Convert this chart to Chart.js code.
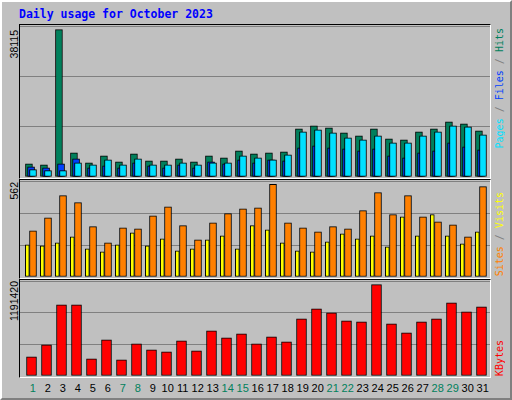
<!DOCTYPE html>
<html><head><meta charset="utf-8">
<script src="https://cdn.jsdelivr.net/npm/chart.js@4"></script>
<style>
  body{margin:0;width:512px;height:400px;overflow:hidden;background:#c0c0c0;position:relative;font-family:"Liberation Sans",sans-serif}
  #bevel{position:absolute;left:0;top:0;width:508px;height:396px;border:2px solid;border-color:#fff #808080 #808080 #fff}
  .frame{position:absolute;left:19px;width:470px;border:1px solid;border-color:#000 #fff #fff #000}
  canvas{position:absolute}
  .vl{position:absolute;writing-mode:vertical-rl;transform:rotate(180deg);white-space:nowrap}
  .ylab{font-size:10.5px;color:#000}
  .rlab{font-family:"DejaVu Sans Mono",monospace;font-size:10px}
  #title{position:absolute;left:19px;top:7px;font:bold 11.5px "DejaVu Sans Mono",monospace;color:#0000ff}
  .day{position:absolute;top:382px;font-size:11px;transform:translateX(-50%)}
</style></head><body>
<div id="bevel"></div>
<div id="title">Daily usage for October 2023</div>
<div class="frame" style="top:24px;height:153px"></div>
<div class="frame" style="top:179px;height:98px"></div>
<div class="frame" style="top:279px;height:97px"></div>
<canvas id="c1" style="left:20px;top:26px;width:470px;height:151px"></canvas>
<canvas id="c2" style="left:20px;top:181px;width:470px;height:96px"></canvas>
<canvas id="c3" style="left:20px;top:281px;width:470px;height:95px"></canvas>
<div class="vl ylab" style="left:8px;top:30px">38115</div>
<div class="vl ylab" style="left:8px;top:182px">562</div>
<div class="vl ylab" style="left:8px;top:281px">1191420</div>
<div class="vl rlab" style="left:494px;bottom:252px"><span style="color:#00e0ff">Pages</span><span style="color:#808080"> / </span><span style="color:#0040ff">Files</span><span style="color:#808080"> / </span><span style="color:#00805c">Hits</span></div>
<div class="vl rlab" style="left:494px;bottom:124px"><span style="color:#ff8000">Sites</span><span style="color:#808080"> / </span><span style="color:#ffff00">Visits</span></div>
<div class="vl rlab" style="left:494px;bottom:24px"><span style="color:#ff0000">KBytes</span></div>
<div id="days"></div>
<script>
const days = Array.from({length:31},(_,i)=>i+1);
const weekends = [1,7,8,14,15,21,22,28,29];
const hits   = [3432,3175,38115,6263,3689,5491,3947,6006,4204,4204,4719,3947,5491,4976,6778,6006,6263,6521,12441,13213,12698,11411,10639,12441,9867,9610,11669,12441,14243,13728,11926];
const files  = [1888,1630,1630,3689,3175,4462,3175,4719,3175,3175,3689,3175,3689,3689,5491,4976,4462,5749,11669,12184,11411,10124,9610,10639,8837,8837,10639,11669,13213,12956,10897];
const pages  = [2660,2402,3432,4719,2402,2917,2402,3689,2917,2402,3175,2402,3947,3432,4462,3689,4462,4204,7550,8065,7550,7293,6778,7293,5491,4976,6263,6778,8837,7808,7036];
const visits = [195,189,207,244,171,152,195,268,189,231,158,171,225,250,171,311,286,207,158,152,213,262,231,250,183,365,250,378,250,201,274];
const sites  = [280,359,493,451,305,207,298,292,371,426,311,225,329,384,414,420,562,329,298,274,305,292,402,512,378,493,365,335,317,244,548];
const kbytes = [248748,405852,929532,929532,222564,471312,209472,418944,340392,314208,458220,327300,589140,497496,549864,418944,510588,445128,746244,877164,824796,720060,706968,1191420,680784,562956,706968,746244,955716,837888,903348];

const dayLabels = document.getElementById('days');
days.forEach(d => {
  const s = document.createElement('div');
  s.className = 'day';
  s.style.left = (32.7 + 15*(d-1)) + 'px';
  s.style.color = weekends.includes(d) ? '#00805c' : '#000';
  s.textContent = d;
  dayLabels.appendChild(s);
});

function ds(values, offset, color, width, order) {
  return { data: values.map((v,i)=>({x: days[i]+offset, y: v})), backgroundColor: color,
           borderColor:'#000', borderWidth:1, barThickness: width, grouped:false, borderSkipped:false, order };
}
function panel(id, ymax, sets) {
  new Chart(document.getElementById(id), {
    type:'bar',
    data:{ datasets: sets },
    options:{ responsive:false, animation:false, events:[],
      layout:{padding:0},
      plugins:{legend:{display:false}, tooltip:{enabled:false}},
      scales:{
        x:{type:'linear', min:0.153, max:31.487, offset:false, display:false},
        y:{min:0, max:ymax, ticks:{display:false, stepSize: ymax/3},
           grid:{color:'#808080', drawTicks:false}, border:{display:false}}
      }}
  });
}
['c1','c2','c3'].forEach(id => { const c = document.getElementById(id); c.width = parseInt(c.style.width); c.height = parseInt(c.style.height); });
panel('c1', 39063, [ds(hits,-0.25,'#00805c',7,3), ds(pages,-0.11,'#0040ff',7,2), ds(files,0.02,'#00e0ff',7,1)]);
panel('c2', 582, [ds(visits,-0.36,'#ffff00',4,2), ds(sites,0.02,'#ff8000',7,1)]);
panel('c3', 1239432, [ds(kbytes,-0.08,'#ff0000',10,1)]);
</script>
</body></html>
